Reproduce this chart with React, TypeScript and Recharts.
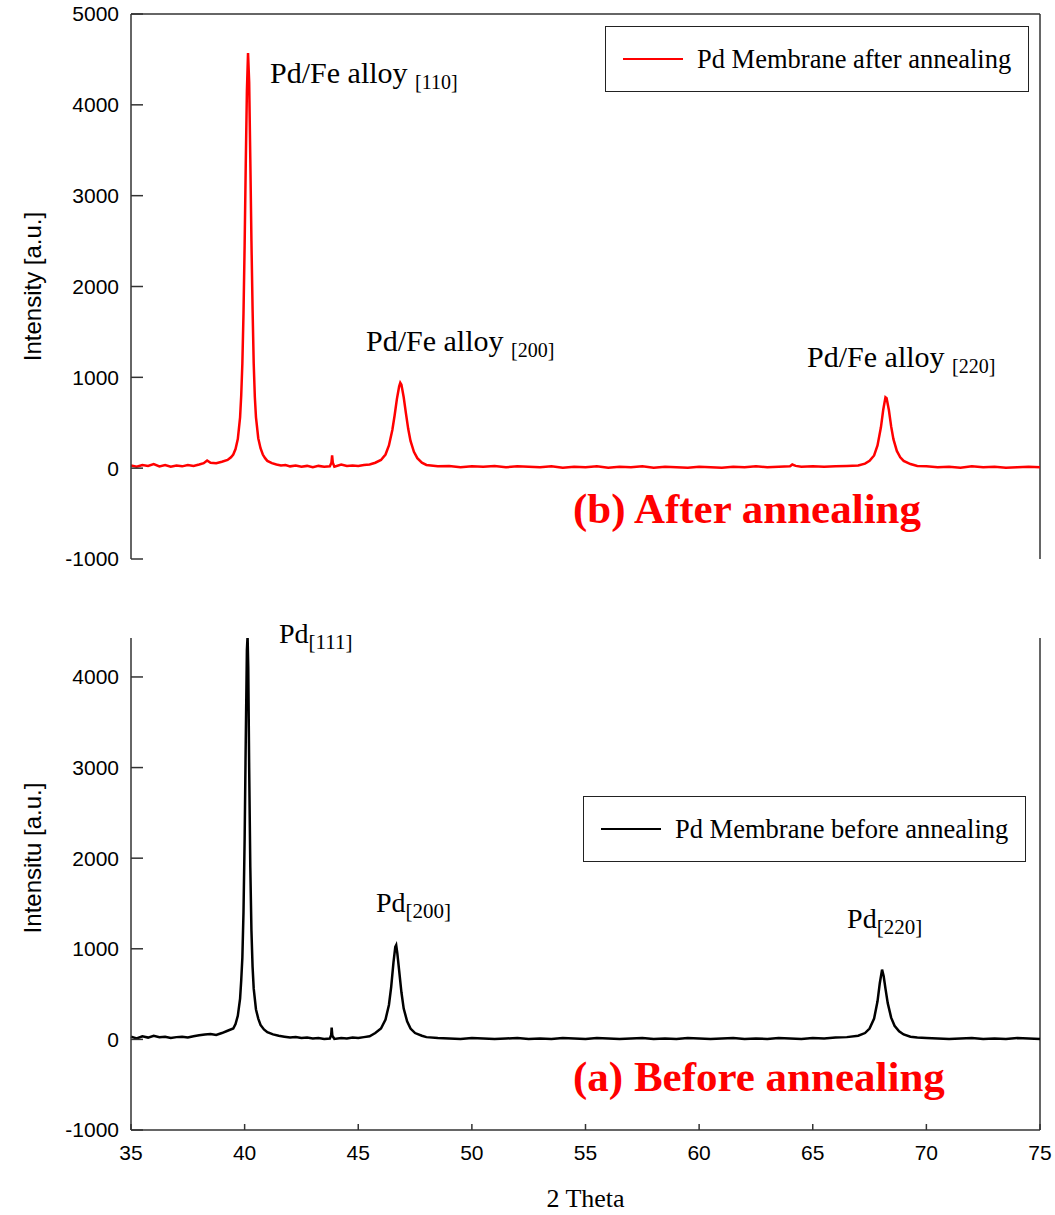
import { LineChart, Line, XAxis, YAxis, ReferenceDot, ReferenceLine, Legend } from 'recharts'

// 2θ (deg) and intensity (a.u.)
const thetaAfter = [
  35.0, 35.25, 35.5, 35.75, 36.0, 36.25, 36.5, 36.75, 37.0, 37.25,
  37.5, 37.75, 38.0, 38.2, 38.35, 38.5, 38.75, 39.0, 39.25, 39.4,
  39.5, 39.6, 39.7, 39.8, 39.85, 39.9, 39.95, 40.0, 40.05, 40.1,
  40.15, 40.2, 40.25, 40.3, 40.35, 40.4, 40.45, 40.5, 40.6, 40.7,
  40.8, 40.9, 41.0, 41.2, 41.4, 41.6, 41.8, 42.0, 42.25, 42.5,
  42.75, 43.0, 43.25, 43.5, 43.75, 43.82, 43.85, 43.88, 43.95, 44.25,
  44.5, 44.75, 45.0, 45.25, 45.5, 45.75, 46.0, 46.2, 46.35, 46.5,
  46.6, 46.7, 46.8, 46.85, 46.9, 47.0, 47.1, 47.2, 47.3, 47.45,
  47.6, 47.8, 48.0, 48.5, 49.0, 49.5, 50.0, 50.5, 51.0, 51.5,
  52.0, 52.5, 53.0, 53.5, 54.0, 54.5, 55.0, 55.5, 56.0, 56.5,
  57.0, 57.5, 58.0, 58.5, 59.0, 59.5, 60.0, 60.5, 61.0, 61.5,
  62.0, 62.5, 63.0, 63.5, 64.0, 64.1, 64.25, 64.5, 65.0, 65.5,
  66.0, 66.5, 67.0, 67.3, 67.5, 67.7, 67.85, 68.0, 68.1, 68.2,
  68.25, 68.35, 68.45, 68.55, 68.7, 68.85, 69.0, 69.3, 69.6, 70.0,
  70.5, 71.0, 71.5, 72.0, 72.5, 73.0, 73.5, 74.0, 74.5, 75.0,
]
const intensityAfter = [
  30, 15, 35, 25, 45, 20, 35, 15, 30, 20,
  35, 25, 40, 55, 85, 60, 55, 70, 90, 120,
  150, 210, 320, 560, 800, 1150, 1700, 2450, 3350, 4150,
  4570, 4250, 3400, 2500, 1750, 1150, 780, 560, 330, 220,
  150, 110, 80, 55, 40, 30, 35, 20, 30, 15,
  25, 10, 25, 15, 20, 60, 140, 60, 15, 40,
  25, 30, 25, 35, 40, 60, 90, 150, 250, 420,
  580, 760, 900, 940, 920, 780, 600, 430, 300, 180,
  110, 60, 35, 20, 25, 10, 20, 15, 25, 10,
  20, 15, 10, 20, 5, 15, 10, 20, 5, 15,
  10, 20, 5, 15, 10, 5, 15, 10, 5, 15,
  10, 20, 10, 15, 20, 40, 25, 15, 20, 15,
  20, 25, 30, 50, 80, 140, 250, 450, 640, 780,
  770, 640, 460, 320, 190, 120, 80, 45, 25, 20,
  10, 15, 5, 20, 10, 15, 5, 10, 15, 10,
]

const thetaBefore = [
  35.0, 35.25, 35.5, 35.75, 36.0, 36.25, 36.5, 36.75, 37.0, 37.25,
  37.5, 37.75, 38.0, 38.25, 38.5, 38.75, 39.0, 39.25, 39.5, 39.6,
  39.7, 39.8, 39.85, 39.9, 39.95, 40.0, 40.05, 40.1, 40.13, 40.16,
  40.2, 40.25, 40.3, 40.35, 40.4, 40.5, 40.6, 40.7, 40.85, 41.0,
  41.25, 41.5, 41.75, 42.0, 42.25, 42.5, 42.75, 43.0, 43.25, 43.5,
  43.75, 43.81, 43.83, 43.86, 43.95, 44.25, 44.5, 44.75, 45.0, 45.25,
  45.5, 45.75, 46.0, 46.2, 46.35, 46.45, 46.55, 46.63, 46.67, 46.72,
  46.8, 46.9, 47.0, 47.15, 47.3, 47.5, 47.8, 48.0, 48.5, 49.0,
  49.5, 50.0, 50.5, 51.0, 51.5, 52.0, 52.5, 53.0, 53.5, 54.0,
  54.5, 55.0, 55.5, 56.0, 56.5, 57.0, 57.5, 58.0, 58.5, 59.0,
  59.5, 60.0, 60.5, 61.0, 61.5, 62.0, 62.5, 63.0, 63.5, 64.0,
  64.5, 65.0, 65.5, 66.0, 66.5, 67.0, 67.3, 67.5, 67.7, 67.85,
  67.95, 68.05, 68.12, 68.2, 68.3, 68.45, 68.6, 68.8, 69.0, 69.3,
  69.6, 70.0, 70.5, 71.0, 71.5, 72.0, 72.5, 73.0, 73.5, 74.0,
  74.5, 75.0,
]
const intensityBefore = [
  30, 10, 35, 20, 40, 25, 30, 15, 25, 30,
  20, 35, 45, 55, 60, 50, 70, 95, 120, 170,
  260, 450, 650, 900, 1400, 2200, 3300, 4300, 4450, 4100,
  3000, 1900, 1200, 800, 560, 330, 230, 160, 110, 80,
  55, 40, 30, 20, 25, 15, 20, 10, 15, 5,
  10, 50, 130, 40, 5, 15, 10, 20, 15, 25,
  35, 70, 120, 220, 380, 580, 850, 1020, 1040, 950,
  760, 520, 340, 200, 120, 70, 40, 25, 15, 10,
  5, 15, 10, 5, 10, 15, 5, 10, 5, 15,
  10, 5, 15, 10, 5, 10, 15, 5, 10, 5,
  15, 10, 5, 10, 15, 5, 10, 5, 15, 10,
  5, 15, 10, 20, 25, 40, 70, 120, 230, 420,
  620, 770, 700, 560, 400, 240, 150, 90, 55, 30,
  20, 15, 10, 5, 10, 15, 5, 10, 5, 15,
  10, 5,
]

const xTicks = [35, 40, 45, 50, 55, 60, 65, 70, 75]
const yTicksAfter = [-1000, 0, 1000, 2000, 3000, 4000, 5000]
const yTicksBefore = [-1000, 0, 1000, 2000, 3000, 4000]

// peak labels, anchored at (2θ, intensity) of the text baseline start
const labelsAfter = [
  { x: 41.12, y: 4240, text: 'Pd/Fe alloy ', sub: '[110]' },
  { x: 45.34, y: 1290, text: 'Pd/Fe alloy ', sub: '[200]' },
  { x: 64.75, y: 1115, text: 'Pd/Fe alloy ', sub: '[220]' },
]
const labelsBefore = [
  { x: 41.51, y: 4376, text: 'Pd', sub: '[111]' },
  { x: 45.78, y: 1403, text: 'Pd', sub: '[200]' },
  { x: 66.51, y: 1227, text: 'Pd', sub: '[220]' },
]

const SERIF = '"Liberation Serif", "Times New Roman", serif'
const SANS = '"Liberation Sans", Arial, sans-serif'
const AXIS = '#333'

const toRows = (xs: number[], ys: number[]) => xs.map((t, i) => ({ theta: t, intensity: ys[i] }))

function peakLabel(l: { text: string; sub: string }, size: number, subSize: number) {
  return (props: any) => (
    <text x={props.cx} y={props.cy} fontFamily={SERIF} fontSize={size} fill="#000">
      {l.text}
      <tspan fontSize={subSize} dy={6}>{l.sub}</tspan>
    </text>
  )
}

function panelTitle(title: string) {
  return (props: any) => (
    <text x={props.cx} y={props.cy} fontFamily={SERIF} fontSize={43} fontWeight="bold" fill="#ff0000">
      {title}
    </text>
  )
}

function legendBox(props: any) {
  const item = props.payload?.[0]
  if (!item) return null
  return (
    <div
      style={{
        boxSizing: 'border-box',
        width: '100%',
        height: 66,
        border: '1.5px solid #222',
        display: 'flex',
        alignItems: 'center',
        paddingLeft: 17,
        background: '#fff',
      }}
    >
      <div style={{ width: 60, height: 0, borderTop: `2px solid ${item.color}` }} />
      <span style={{ marginLeft: 14, fontFamily: SERIF, fontSize: 26.5, color: '#000', whiteSpace: 'nowrap' }}>
        {item.value}
      </span>
    </div>
  )
}

function yLabel(text: string, shift: number) {
  return (props: any) => {
    const vb = props.viewBox
    const cy = vb.y + vb.height / 2 + shift
    return (
      <text
        x={32}
        y={cy}
        transform={`rotate(-90, 32, ${cy})`}
        textAnchor="middle"
        dominantBaseline="central"
        fontFamily={SANS}
        fontSize={24}
        fill="#000"
      >
        {text}
      </text>
    )
  }
}

export default function App() {
  const after = toRows(thetaAfter, intensityAfter)
  const before = toRows(thetaBefore, intensityBefore)
  const tick = { fill: '#000', fontSize: 21, fontFamily: SANS }

  return (
    <div style={{ position: 'absolute', left: 0, top: 0, width: 1055, height: 1215, background: '#fff' }}>
      <div style={{ position: 'absolute', left: 0, top: 0 }}>
        <LineChart width={1055} height={600} data={after} margin={{ top: 14, right: 15, bottom: 41, left: 61 }}>
          <XAxis dataKey="theta" type="number" domain={[35, 75]} ticks={xTicks} hide />
          <YAxis
            type="number"
            domain={[-1000, 5000]}
            ticks={yTicksAfter}
            width={70}
            tick={tick}
            tickSize={-12}
            tickMargin={24}
            axisLine={{ stroke: AXIS, strokeWidth: 1.5 }}
            tickLine={{ stroke: AXIS, strokeWidth: 1.5 }}
            label={yLabel('Intensity [a.u.]', 0)}
          />
          <ReferenceLine y={5000} stroke={AXIS} strokeWidth={1.5} />
          <ReferenceLine x={75} stroke={AXIS} strokeWidth={1.5} />
          <Line
            type="linear"
            dataKey="intensity"
            name="Pd Membrane after annealing"
            stroke="#ff0000"
            strokeWidth={2.5}
            dot={false}
            isAnimationActive={false}
          />
          {labelsAfter.map((l) => (
            <ReferenceDot key={l.sub} x={l.x} y={l.y} ifOverflow="visible" shape={peakLabel(l, 30, 20)} />
          ))}
          <ReferenceDot x={54.45} y={-607} ifOverflow="visible" shape={panelTitle('(b) After annealing')} />
          <Legend
            layout="horizontal"
            align="center"
            verticalAlign="middle"
            content={legendBox}
            wrapperStyle={{ left: 605, top: 26, width: 424, height: 66 }}
          />
        </LineChart>
      </div>

      <div style={{ position: 'absolute', left: 0, top: 600 }}>
        <LineChart width={1055} height={615} data={before} margin={{ top: 38, right: 15, bottom: 35, left: 61 }}>
          <XAxis
            dataKey="theta"
            type="number"
            domain={[35, 75]}
            ticks={xTicks}
            height={50}
            tick={tick}
            tickSize={-6}
            tickMargin={21}
            axisLine={{ stroke: AXIS, strokeWidth: 1.5 }}
            tickLine={{ stroke: AXIS, strokeWidth: 1.5 }}
            label={(props: any) => (
              <text
                x={props.viewBox.x + props.viewBox.width / 2}
                y={607}
                textAnchor="middle"
                fontFamily={SERIF}
                fontSize={26}
                fill="#000"
              >
                2 Theta
              </text>
            )}
          />
          <YAxis
            type="number"
            domain={[-1000, 4430]}
            allowDataOverflow
            ticks={yTicksBefore}
            width={70}
            tick={tick}
            tickSize={-12}
            tickMargin={24}
            axisLine={{ stroke: AXIS, strokeWidth: 1.5 }}
            tickLine={{ stroke: AXIS, strokeWidth: 1.5 }}
            label={yLabel('Intensitu [a.u.]', -26)}
          />
          <ReferenceLine x={75} stroke={AXIS} strokeWidth={1.5} />
          <Line
            type="linear"
            dataKey="intensity"
            name="Pd Membrane before annealing"
            stroke="#000"
            strokeWidth={2.5}
            dot={false}
            isAnimationActive={false}
          />
          {labelsBefore.map((l) => (
            <ReferenceDot key={l.sub} x={l.x} y={l.y} ifOverflow="visible" shape={peakLabel(l, 28, 21)} />
          ))}
          <ReferenceDot x={54.45} y={-575} ifOverflow="visible" shape={panelTitle('(a) Before annealing')} />
          <Legend
            layout="horizontal"
            align="center"
            verticalAlign="middle"
            content={legendBox}
            wrapperStyle={{ left: 583, top: 196, width: 443, height: 66 }}
          />
        </LineChart>
      </div>
    </div>
  )
}
